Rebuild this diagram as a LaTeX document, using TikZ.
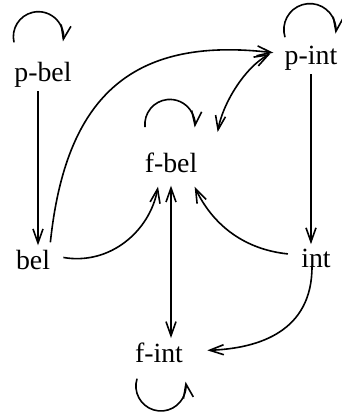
\documentclass[tikz,border=0pt]{standalone}
\usepackage{fontspec}
\setmainfont{Liberation Serif}
\usepackage{tikz}
\usetikzlibrary{arrows.meta}

\begin{document}
\begin{tikzpicture}[
  x=0.5pt, y=0.5pt,
  font=\fontsize{13.9}{16}\selectfont,
  state/.style={inner sep=2pt, anchor=base},
  arr/.style={-{Straight Barb[length=7pt,width=5pt]}, line width=0.8pt},
  darr/.style={{Straight Barb[length=7pt,width=5pt]}-{Straight Barb[length=7pt,width=5pt]}, line width=0.8pt}
]
  \useasboundingbox (0,0) rectangle (342,-414);
  \node[state] (pbel) at (43,-81) {p-bel};
  \node[state] (pint) at (311,-64) {p-int};
  \node[state] (fbel) at (171,-172) {f-bel};
  \node[state] (bel) at (33,-269) {bel};
  \node[state] (int) at (316,-267) {int};
  \node[state] (fint) at (159,-362) {f-int};
  % self loops
  \draw[arr] ([shift={(-29,15)}]pbel.north) arc[start angle=193, end angle=-11, radius=25];
  \draw[arr] ([shift={(-26,4)}]pint.north) arc[start angle=197, end angle=-9, radius=26];
  \draw[arr] ([shift={(-26,21)}]fbel.north) arc[start angle=186, end angle=-7, radius=25];
  \draw[arr] ([shift={(-22,-12)}]fint.south) arc[start angle=163, end angle=370, radius=25];
  % connections
  \draw[arr] ([shift={(-5,0)}]pbel.south) -- ([shift={(5,0)}]bel.north);
  \draw[arr] ([shift={(-4,3)}]bel.north east) .. controls +(15,143) and +(-144,17) .. ([shift={(-7,5)}]pint.west);
  \draw[darr] ([shift={(16,16)}]fbel.north east) .. controls +(5,28) and +(-26,-14) .. ([shift={(-10,4)}]pint.west);
  \draw[arr] ([shift={(9,2)}]bel.east) .. controls +(47,-8) and +(-8,-44) .. ([shift={(-13,-10)}]fbel.south);
  \draw[arr] ([shift={(-9,4)}]int.west) .. controls +(-48,5) and +(16,-34) .. ([shift={(-7,-10)}]fbel.south east);
  \draw[arr] (pint.south) -- (pint.south |- int.north);
  \draw[darr] ([shift={(0,-9)}]fbel.south) -- (fbel.south |- fint.north);
  \draw[arr] ([shift={(-4,5)}]int.south) .. controls +(0,-64) and +(53,2) .. ([shift={(20,2)}]fint.east);
\end{tikzpicture}
\end{document}
